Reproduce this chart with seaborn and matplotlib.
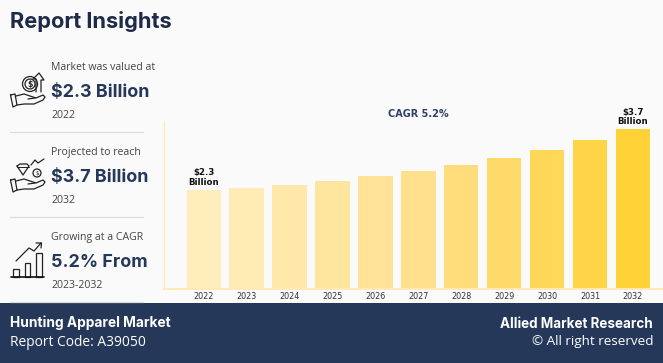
import matplotlib
matplotlib.use("Agg")
import matplotlib.pyplot as plt
from matplotlib.patches import Circle, Rectangle
import seaborn as sns

years = [2022, 2023, 2024, 2025, 2026, 2027, 2028, 2029, 2030, 2031, 2032]
values = [2.3, 2.34, 2.41, 2.5, 2.62, 2.73, 2.87, 3.03, 3.22, 3.45, 3.7]
bar_labels = {2022: "$2.3\nBillion", 2032: "$3.7\nBillion"}
insight_top = ["Market was valued at", "Projected to reach", "Growing at a CAGR"]
insight_big = ["$2.3 Billion", "$3.7 Billion", "5.2% From"]
insight_low = ["2022", "2032", "2023-2032"]

BG = "#FAFAFA"
NAVY = "#25385A"
INK = "#1F2A48"
LINE = "#222222"

sns.set_theme(style="white")
plt.rcParams["font.family"] = ["DejaVu Sans"]

fig = plt.figure(figsize=(6.63, 3.63), dpi=100, facecolor=BG)

# chart area, placed in pixels of the reference
ax = fig.add_axes([163.5 / 663, (363 - 289) / 363, (663 - 163.5) / 663, 168 / 363], facecolor=BG)
palette = sns.blend_palette(["#FFEEBC", "#FFE08C", "#FFD237"], n_colors=len(years))
sns.barplot(x=years, y=values, hue=years, palette=palette, legend=False, width=0.8, ax=ax, saturation=1, linewidth=0)
ax.set_xlim(-0.937, 10.7)
ax.set_ylim(0, 3.89)
ax.set_yticks([])
ax.set_xlabel("")
ax.set_ylabel("")
ax.tick_params(axis="x", length=0, labelsize=5.8, pad=2, labelcolor="#333333")
sns.despine(ax=ax)
ax.spines["left"].set_color("#FFEBB5")
ax.spines["bottom"].set_color("#FFEBB5")
ax.spines["left"].set_linewidth(1)
ax.spines["bottom"].set_linewidth(1.4)

for i, year in enumerate(years):
    if year in bar_labels:
        ax.annotate(bar_labels[year], (i, values[i]), xytext=(0, 2), textcoords="offset points",
                    ha="center", va="bottom", fontsize=6.2, fontweight="bold", color="#111111", linespacing=1.1)

# overlay in pixel coordinates for the side panel and footer
ov = fig.add_axes([0, 0, 1, 1], facecolor="none", zorder=5)
ov.set_xlim(0, 663)
ov.set_ylim(363, 0)
ov.axis("off")

ov.text(418, 114, "CAGR 5.2%", ha="center", va="center", fontsize=7.0, fontweight="bold", color="#2F4068")
ov.text(10, 28, "Report Insights", ha="left", va="baseline", fontsize=15.7, fontweight="bold",
        color=INK, family="Inter")

rows_y = [70, 155, 240]
for y0, top, big, low in zip(rows_y, insight_top, insight_big, insight_low):
    ov.text(51, y0, top, ha="left", va="baseline", fontsize=7.6, color="#444444", family="Open Sans")
    ov.text(51, y0 + 27, big, ha="left", va="baseline", fontsize=12.9, fontweight="bold", color=NAVY, family="Inter")
    ov.text(51, y0 + 48, low, ha="left", va="baseline", fontsize=7.6, color="#444444", family="Open Sans")

for y in [132, 217, 302]:
    ov.plot([10, 143], [y, y], color="#DDDDDD", lw=0.9)


def draw_hand(dy):
    # open palm, same outline for the first two rows
    ov.plot([16, 24, 30, 36, 43, 45, 43, 34, 24, 17],
            [96 + dy, 94 + dy, 96 + dy, 98 + dy, 95 + dy, 97 + dy, 100 + dy, 104 + dy, 104 + dy, 105 + dy],
            color=LINE, lw=0.9)
    ov.plot([28, 35], [99 + dy, 98 + dy], color=LINE, lw=0.9)
    ov.plot([10.5, 15, 17, 13, 10.5], [95 + dy, 94 + dy, 105 + dy, 107 + dy, 95 + dy], color=LINE, lw=0.9)


draw_hand(0)
ov.add_patch(Circle((30, 84), 7.5, fc="none", ec=LINE, lw=0.9))
ov.add_patch(Circle((30, 84), 5, fc="none", ec=LINE, lw=0.9))
ov.text(30, 84, "$", ha="center", va="center", fontsize=5.5, fontweight="bold", color=LINE)
ov.plot([36, 36, 33, 39, 44, 41, 41], [92, 79, 79, 73, 80, 80, 92], color=LINE, lw=0.9)

draw_hand(85)
ov.plot([17, 20, 27, 29, 23, 17], [166, 164, 164, 166, 175, 166], color=LINE, lw=0.9)
ov.plot([17, 29], [167, 167], color=LINE, lw=0.7)
ov.add_patch(Circle((37, 173), 4, fc="none", ec=LINE, lw=0.9))
ov.text(37, 173, "$", ha="center", va="center", fontsize=4.2, color=LINE)
ov.plot([31, 35, 38, 44], [165, 160, 163, 159], color=LINE, lw=0.9)

ov.plot([11, 44], [277, 277], color="#111111", lw=1.2)
for x0, top in zip([13, 24.5, 36], [268.5, 262.5, 253]):
    ov.add_patch(Rectangle((x0, top), 5.5, 277 - top, fc="none", ec=LINE, lw=0.9))
ov.plot([16, 29, 34, 41], [261, 248, 251, 243], color=LINE, lw=0.9)
ov.plot([36, 41.5, 41], [243, 243, 248], color=LINE, lw=0.9)

# footer
ov.add_patch(Rectangle((0, 303), 663, 60, fc=NAVY, ec="none"))
ov.text(10, 323, "Hunting Apparel Market", ha="left", va="center", fontsize=9.9, fontweight="bold",
        color="white", family="Inter")
ov.text(10, 343, "Report Code: A39050", ha="left", va="center", fontsize=9.9, color="white", family="Open Sans")
ov.text(653, 324, "Allied Market Research", ha="right", va="center", fontsize=9.7, fontweight="bold",
        color="white", family="Inter")
ov.text(653, 341, "\u00a9 All right reserved", ha="right", va="center", fontsize=9.7, color="white", family="Open Sans")

fig.savefig("out.png", dpi=100, facecolor=BG)
